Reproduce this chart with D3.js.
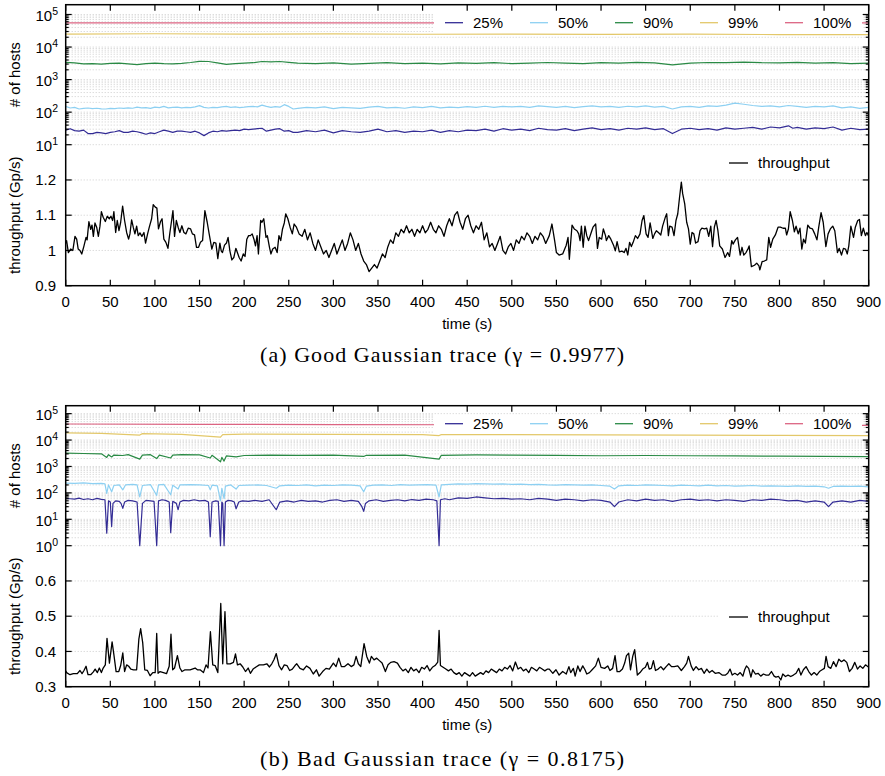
<!DOCTYPE html>
<html>
<head>
<meta charset="utf-8">
<script src="https://cdn.jsdelivr.net/npm/d3@7"></script>
<style>
body { margin: 0; background: #fff; }
svg { display: block; }
text { font-family: "Liberation Sans", Arial, sans-serif; }
</style>
</head>
<body>
<div id="chart"></div>
<script>
const W = 885, H = 776;

// ---- data ----
const hostLabels = ["25%", "50%", "90%", "99%", "100%"];
const hostColors = ["#332c95", "#8dd0f2", "#2a8a45", "#e3c86a", "#dc6482"];
const timeTicks = [0, 50, 100, 150, 200, 250, 300, 350, 400, 450, 500, 550, 600, 650, 700, 750, 800, 850, 900];
const goodTpTicks = [0.9, 1, 1.1, 1.2];
const badTpTicks = [0.3, 0.4, 0.5, 0.6];
const captions = ["(a) Good Gaussian trace (\u03b3 = 0.9977)", "(b) Bad Gaussian trace (\u03b3 = 0.8175)"];

// good trace: [time s, value]
const goodTp = [
  [0,1.02],[1,1.028],[3,0.994],[5.6,1.004],[8,1.0],[10.4,1.04],[12.3,1.032],[14,1.004],[16,1.0],[18,0.99],[20.5,1.013],
  [22.8,1.037],[24,1.03],[26,1.082],[28,1.06],[29.5,1.072],[31,1.04],[32.8,1.078],[34.7,1.066],[36.6,1.04],[38.4,1.069],
  [40,1.11],[42,1.094],[44.4,1.082],[46.6,1.097],[48.9,1.09],[50.7,1.097],[52.6,1.085],[54,1.11],[56,1.051],[57.8,1.085],
  [59.7,1.056],[61.6,1.08],[63.8,1.126],[66,1.085],[68.3,1.051],[70.5,1.032],[72,1.047],[73.9,1.087],[75.7,1.066],[77.6,1.047],
  [79.5,1.069],[81.3,1.042],[83.2,1.05],[85.4,1.04],[87.7,1.051],[89.5,1.021],[91.8,1.047],[93.7,1.066],[96.3,1.09],[98.1,1.13],
  [100.4,1.123],[102.2,1.12],[104,1.061],[106.3,1.082],[108,1.09],[110,1.032],[112.3,1.023],[114.6,1.006],[116.8,1.051],[118.7,1.085],
  [120.2,1.113],[122,1.04],[124,1.085],[126,1.066],[128,1.051],[130.2,1.07],[132.5,1.051],[134.7,1.047],[137.3,1.063],[140,1.061],
  [142,1.047],[144.4,1.044],[146.6,1.009],[148.9,1.009],[151,1.023],[153.4,1.028],[156,1.113],[158.6,1.08],[160.8,1.047],[163.8,1.004],
  [166,1.023],[168.3,1.021],[170.5,0.977],[172.8,1.021],[174.3,0.999],[175.7,0.994],[178,1.015],[180.2,1.021],[182,1.037],[184,0.999],
  [186.2,0.973],[188.4,0.98],[190.7,1.006],[193,0.99],[194.4,0.98],[196.6,0.97],[199,0.99],[201,0.983],[203,1.032],[205,1.042],
  [207,1.042],[209,1.047],[211,1.032],[212.7,1.013],[214.5,1.042],[216,0.99],[218.5,1.085],[220,1.08],[222,1.09],[224.5,1.037],
  [226,1.042],[228.4,1.009],[230,0.99],[232,1.004],[234.7,1.009],[237,0.994],[239,1.042],[241,1.028],[243,1.061],[245,1.078],
  [246.6,1.104],[249,1.09],[251.5,1.066],[254,1.047],[256,1.075],[258.6,1.066],[261.6,1.047],
  [265,1.04],[268,1.06],[271,1.03],[274,1.05],[277,1.02],[280,1.0],[283,1.03],[286,1.01],[289,0.99],[292,1.0],[295,0.98],
  [298,1.0],[301,1.02],[304,0.99],[307,1.01],[310,1.03],[313,1.0],[316,1.02],[319,1.05],[322,1.03],[325,1.0],[328,1.02],
  [331,0.99],[334,0.97],[337,0.96],[340,0.94],[343,0.95],[346,0.96],[349,0.95],[352,0.97],[355,0.99],[358,0.98],[361,1.01],
  [364,1.03],[367,1.02],[370,1.05],[373,1.04],[376,1.06],[379,1.05],[382,1.07],[385,1.05],[388,1.06],[391,1.04],[394,1.06],
  [397,1.05],[400,1.07],[403,1.05],[406,1.06],[409,1.08],[412,1.06],[415,1.05],[418,1.07],[421,1.06],[424,1.04],[427,1.07],
  [430,1.09],[433,1.07],[436,1.1],[439,1.11],[442,1.08],[445,1.06],[448,1.09],[451,1.1],[454,1.07],[457,1.05],[460,1.07],
  [463,1.06],[466,1.08],[469,1.03],[472,1.05],[475,1.01],[478,1.02],[481,1.0],[484,1.02],[487,1.04],[490,1.0],[493,0.99],
  [496,1.01],[499,1.02],[502,1.0],[505,1.03],[508,1.02],[511,1.04],[514,1.03],[517,1.05],[520,1.04],[523,1.02],[526,1.04],
  [529,1.03],[532,1.05],[535,1.04],[538,1.02],[542,1.042],
  [545,1.075],[548,1.028],[550,0.994],[553,0.987],[557,0.99],[561,1.015],[563,1.037],[564.5,0.975],[567.5,1.072],[570,1.061],
  [573,1.056],[575,1.047],[576.5,1.028],[578,1.069],[580,1.009],[582,1.069],[584,1.042],[586,1.028],[589,1.051],[591,1.066],
  [594,1.075],[596,1.006],[598,1.037],[600.7,1.032],[602.6,1.061],[605,1.042],[606,1.028],[608.6,1.042],[611,1.032],[614,1.015],
  [616,0.999],[618,1.025],[620.5,0.996],[623.5,0.998],[626,0.994],[628,1.006],[630,0.987],[632,1.023],[634,1.011],[636,1.023],
  [638.5,1.042],[641,1.034],[643.7,1.047],[646,1.085],[648,1.099],[650.5,1.047],[652.7,1.037],[655,1.078],[658,1.034],[660,1.047],
  [662,1.056],[664.6,1.05],[667,1.044],[669,1.069],[672,1.094],[673.6,1.104],[675.5,1.042],[677,1.069],[679.6,1.066],[681.8,1.042],
  [684,1.085],[686,1.104],[688,1.151],[690,1.194],[691.5,1.161],[693.8,1.132],[696,1.08],[698,1.061],[700,1.018],[702,1.051],
  [704,1.047],[706,1.021],[708.7,1.025],[711,1.056],[713,1.063],[716,1.061],[718.5,1.063],[720.7,1.04],[723,1.069],[725,1.011],
  [727,1.066],[729,1.085],[731,1.056],[733,1.013],[736,1.004],[739,0.98],[742,0.994],[744,0.983],[746.5,1.028],[748,1.018],
  [750.6,1.03],[753,1.037],[756,0.987],[758,1.009],[760,0.987],[762.5,0.994],[765,1.006],[766,1.013],[768.5,0.954],[772,0.958],
  [774.5,0.964],[777,0.956],[778,0.945],[780.5,0.968],[783,0.97],[785.7,0.973],[788,1.037],[790,1.009],[792.5,1.032],[795.4,1.044],
  [798.4,1.066],[801,1.066],[804,1.063],[806.6,1.063],[808,1.044],[810,1.061],[812,1.11],[814.5,1.085],[816.7,1.053],[818.6,1.069],
  [821,1.047],[823,1.063],[825,1.004],[827,1.032],[829,1.021],[831.7,1.072],[834.3,1.063],[837,1.061],[839.5,1.047],[842,1.03],
  [844,1.066],[846.6,1.107],[849,1.08],[852,1.011],[854.5,1.047],[857,1.061],[859.7,1.069],[862,1.056],[865,0.994],[867,1.006],
  [869.5,0.987],[871.7,1.006],[874,1.004],[876,0.99],[877.7,1.013],[880,1.069],[883,1.037],[885,1.066],[887.7,1.085],[889.6,1.088],
  [891.8,1.042],[894,1.063],[896.3,1.042],[898,1.051],[900,1.04]
];
const goodHosts25 = [
  [0,28],[5,31],[10,27],[15,26],[20,28],[25,22],[30,22],[35,24],[40,23],[45,22],[50,24],[55,25],[60,27],[65,24],[70,24],
  [75,26],[80,25],[85,23],[90,21],[95,23],[100,22],[105,25],[110,28],[115,26],[120,24],[125,26],[130,26],[135,25],[140,24],
  [145,26],[150,23],[155,19],[160,23],[165,26],[170,25],[175,27],[180,26],[185,27],[190,28],[195,27],[200,30],[205,29],[210,30],
  [215,31],[220,32],[225,26],[230,28],[235,30],[240,31],[245,26],[250,27],[255,24],[260,24],[270,27],[280,25],[290,28],[300,23],
  [310,27],[320,25],[330,24],[340,26],[350,30],[360,25],[370,27],[380,24],[390,26],[400,25],[410,28],[420,24],[430,27],[440,25],
  [450,28],[460,27],[470,30],[480,26],[490,31],[500,28],[510,30],[520,27],[530,32],[540,29],[550,28],[560,31],[570,27],[580,30],
  [590,33],[600,29],[610,31],[620,28],[630,32],[640,30],[650,33],[660,29],[670,31],[680,22],[690,30],[700,32],[710,29],[720,31],
  [730,28],[740,33],[750,30],[760,32],[770,34],[780,30],[790,35],[800,33],[810,38],[815,32],[820,34],[830,30],[840,33],[850,31],
  [860,35],[870,28],[880,32],[890,29],[900,30]
];
const goodHosts50 = [
  [0,150],[5,134],[10,140],[15,125],[20,130],[25,134],[30,128],[35,132],[40,126],[45,125],[50,130],[55,128],[60,134],[65,130],
  [70,136],[75,132],[80,142],[85,135],[90,138],[95,130],[100,142],[105,138],[110,150],[115,136],[120,140],[125,142],[130,135],
  [135,140],[140,138],[145,145],[150,158],[155,140],[160,134],[165,140],[170,138],[175,145],[180,150],[185,140],[190,145],
  [195,138],[200,142],[205,148],[210,150],[215,145],[220,165],[225,150],[230,140],[235,148],[240,142],[245,170],[250,150],
  [255,125],[260,130],[270,140],[280,135],[290,145],[300,128],[310,140],[320,135],[330,130],[340,142],[350,150],[360,135],
  [370,140],[380,132],[390,145],[400,138],[410,150],[420,135],[430,142],[440,138],[450,148],[460,140],[470,152],[480,140],
  [490,150],[500,145],[510,150],[520,140],[530,155],[540,148],[550,140],[560,150],[570,138],[580,148],[590,155],[600,145],
  [610,150],[620,140],[630,152],[640,145],[650,155],[660,142],[670,150],[680,125],[690,145],[700,150],[710,140],[720,155],
  [730,150],[740,165],[750,190],[760,175],[770,160],[780,150],[790,155],[800,145],[810,160],[820,150],[830,140],[840,150],
  [850,145],[860,155],[870,135],[880,145],[890,130],[900,140]
];
const goodHosts90 = [
  [0,3400],[10,3250],[20,3050],[30,3100],[40,2980],[50,3150],[60,3200],[70,3050],[80,2870],[90,3100],[100,3200],[110,3100],
  [120,3050],[130,3150],[140,3350],[150,3630],[160,3600],[170,3250],[180,2950],[190,3100],[200,3200],[210,3300],[220,3600],
  [230,3500],[240,3600],[250,3400],[260,3200],[280,3100],[300,3250],[320,3000],[340,3150],[360,3300],[380,3100],[400,3200],
  [420,3050],[440,3250],[460,3150],[480,3300],[500,3100],[520,3200],[540,3350],[560,3200],[580,3100],[600,3300],[620,3200],
  [640,3400],[660,3250],[680,2850],[700,3200],[720,3350],[740,3300],[760,3450],[780,3300],[800,3250],[820,3400],[840,3200],
  [860,3300],[880,3100],[900,3200]
];
const goodHosts99 = [[0,25000],[100,25600],[200,24800],[300,25300],[400,24700],[500,25100],[600,24600],[700,24900],[800,24200],[900,24000]];
const goodHosts100 = [[0,55000],[150,55500],[300,55000],[450,55300],[600,55000],[750,55200],[900,55000]];

// bad trace
const badTp = [
  [0,0.345],[1,0.34],[4.8,0.334],[8.6,0.337],[13,0.337],[16,0.346],[18.3,0.337],[20.5,0.346],[22.8,0.358],[25,0.334],[28,0.334],
  [31,0.342],[33,0.35],[35.5,0.34],[37.7,0.353],[40,0.34],[42,0.353],[44.4,0.362],[46.3,0.437],[49,0.367],[52,0.427],[54,0.391],
  [56.5,0.343],[59.5,0.343],[61.6,0.36],[64,0.396],[66,0.343],[68.3,0.362],[70.6,0.358],[73,0.35],[76,0.348],[79.5,0.348],
  [82,0.435],[84,0.465],[86.3,0.425],[88.6,0.348],[91.6,0.346],[94.6,0.331],[97.6,0.34],[100.3,0.34],[102,0.451],[103.5,0.338],
  [105.8,0.343],[109.5,0.34],[113,0.337],[116,0.358],[118,0.449],[119.9,0.348],[122,0.353],[125.2,0.388],[128,0.353],[130.4,0.343],
  [133.7,0.348],[139.4,0.348],[145,0.353],[147.6,0.348],[150.6,0.348],[154.4,0.34],[157.3,0.362],[159.5,0.353],[162.2,0.456],
  [164.8,0.362],[167.5,0.36],[170.5,0.34],[173.8,0.536],[176,0.365],[178.5,0.513],[180.7,0.365],[184.4,0.365],[188,0.369],
  [190.3,0.393],[192.5,0.362],[195.5,0.365],[198.5,0.356],[201.5,0.343],[204.5,0.353],[207,0.338],[210,0.35],[213.3,0.356],
  [217,0.362],[221.6,0.362],[225.4,0.365],[228.4,0.356],[231,0.365],[233.5,0.377],[236,0.394],[239,0.36],[242,0.348],[245,0.362],
  [248,0.36],[251,0.346],[254,0.35],[257,0.36],[259,0.365],[262.6,0.352],[266.4,0.348],[270,0.359],[273.8,0.352],[277.5,0.336],
  [281,0.348],[284,0.33],[288,0.343],[291.7,0.352],[295.5,0.35],[300,0.367],[303,0.357],[306,0.381],[309,0.357],[312.6,0.357],
  [316.4,0.365],[320,0.357],[323,0.362],[325.5,0.386],[328,0.365],[330.7,0.357],[334.4,0.422],[337.4,0.386],[340.4,0.367],
  [342.6,0.386],[345.6,0.376],[348.6,0.381],[351.6,0.374],[354.6,0.367],[358.3,0.343],[361.3,0.362],[364.3,0.369],[368,0.371],
  [371.8,0.367],[374.7,0.355],
  [378,0.345],[381,0.35],[384,0.34],[387,0.355],[390,0.345],[393,0.35],[396,0.34],[399,0.355],[402,0.35],[405,0.36],[408,0.345],
  [411,0.355],[414,0.36],[417,0.37],[418.5,0.46],[420,0.36],[423,0.355],[426,0.35],[429,0.345],[432,0.35],[435,0.34],[438,0.335],
  [441,0.34],[444,0.33],[447,0.34],[450,0.335],[453,0.33],[456,0.34],[459,0.33],[462,0.335],[465,0.34],[468,0.335],[471,0.345],
  [474,0.34],[477,0.35],[480,0.345],[483,0.34],[486,0.35],[489,0.345],[492,0.355],[495,0.35],[498,0.36],[501,0.345],[504,0.37],
  [507,0.35],[510,0.355],[513,0.345],[516,0.35],[519,0.34],[522,0.355],[525,0.35],[528,0.345],[531,0.355],[534,0.35],[537,0.345],
  [540,0.35],
  [542,0.35],[546,0.338],[549.5,0.348],[553,0.333],[557,0.343],[561,0.336],[564,0.357],[566,0.34],[569,0.352],[571,0.33],
  [574,0.359],[576.5,0.343],[579.5,0.359],[582,0.348],[584,0.336],[587,0.34],[590,0.348],[594,0.359],[597,0.381],[600,0.355],
  [604,0.352],[607.5,0.359],[610,0.346],[613,0.352],[615.7,0.388],[618,0.343],[621,0.343],[624,0.35],[626.5,0.367],[628.5,0.388],
  [631,0.395],[633,0.348],[635.5,0.386],[637.7,0.405],[640.7,0.333],[643.7,0.34],[646.7,0.35],[649.7,0.355],[652,0.369],[654,0.35],
  [656.4,0.352],[658.7,0.374],[661,0.346],[664,0.35],[667,0.357],[670,0.348],[673,0.357],[676,0.365],[679,0.357],[682,0.357],
  [686,0.359],[690,0.346],[693.5,0.357],[696,0.367],[698,0.386],[701,0.359],[703.5,0.346],[706.5,0.357],[709.5,0.348],[712.5,0.352],
  [715.5,0.338],[718.5,0.35],[721.5,0.34],[724.5,0.346],[728,0.338],[732,0.34],[735.7,0.333],[739.5,0.333],[742,0.338],[744.6,0.35],
  [747,0.333],[750,0.338],[753,0.333],[756,0.34],[759,0.33],[761,0.348],[763,0.359],[765.5,0.352],[768,0.327],[770,0.348],
  [773,0.336],[776,0.338],[779,0.33],[782,0.336],[785,0.333],[788,0.333],[791,0.343],[794,0.33],[796,0.327],[799,0.329],
  [801.5,0.319],[803.7,0.336],[806.7,0.329],[809.6,0.333],[812.6,0.329],[815.6,0.333],[818.6,0.338],[821.6,0.352],[824,0.333],
  [826.8,0.348],[829.8,0.357],[832.8,0.343],[835.8,0.333],[838.8,0.34],[841.8,0.333],[844.8,0.343],[847.8,0.348],[850.3,0.352],
  [852.2,0.386],[854.5,0.357],[857.5,0.352],[860.5,0.371],[863.5,0.357],[866.5,0.378],[869.5,0.371],[872.4,0.376],[875.4,0.369],
  [878.4,0.343],[881.4,0.352],[884.4,0.369],[887.4,0.35],[890.4,0.359],[893.4,0.352],[896.4,0.362],[900,0.355]
];
const badHosts25 = [
  [0,62],[5,60],[10,58],[15,63],[20,56],[25,60],[30,55],[35,62],[40,57],[44,55],[46,3],[48,50],[50,45],[51.5,5.3],[53,40],
  [56,50],[60,48],[62,40],[64,26],[66,45],[70,52],[75,50],[80,45],[83,1],[86,40],[90,52],[95,50],[99,48],[102,1],[104,50],
  [108,55],[112,52],[116,45],[117.7,3.1],[120,48],[124,40],[126,23],[128,45],[132,52],[138,50],[144,55],[150,50],[156,52],
  [160,45],[162,2.2],[164,45],[168,50],[171,48],[173.5,1],[175,45],[176,40],[177.5,1],[179,45],[182,52],[186,50],[189,45],
  [191,25],[194,45],[198,50],[205,48],[212,52],[220,48],[228,55],[236,23],[240,45],[248,50],[256,45],[264,52],[272,48],
  [280,50],[288,45],[296,52],[304,55],[312,48],[320,52],[328,48],[332,30],[334,20],[336,40],[340,50],[348,55],[356,48],
  [364,52],[372,55],[380,50],[388,56],[396,52],[404,58],[412,55],[416,50],[418.5,1],[420,55],[425,60],[430,55],[440,65],
  [450,62],[460,70],[470,65],[480,60],[490,62],[500,58],[510,60],[520,55],[530,62],[540,58],[550,52],[560,58],[570,55],
  [580,50],[590,55],[600,52],[610,45],[615,30],[620,45],[630,55],[640,50],[650,58],[660,52],[670,55],[680,48],[690,55],
  [700,58],[710,52],[720,55],[730,50],[740,55],[750,52],[760,48],[770,55],[780,52],[790,58],[800,55],[810,50],[820,52],
  [830,45],[840,50],[850,45],[855,30],[860,45],[870,50],[880,45],[890,52],[900,48]
];
const badHosts50 = [
  [0,235],[10,228],[20,240],[30,225],[40,230],[44,220],[46,95],[48,200],[51.5,110],[54,190],[60,200],[64,130],[67,200],
  [75,210],[80,200],[83,70],[86,190],[95,205],[102,80],[104,200],[110,210],[117.7,85],[120,195],[126,140],[128,200],[140,205],
  [150,200],[160,190],[162,130],[164,195],[170,185],[173.5,50],[175,150],[177.5,60],[179,180],[185,200],[191,140],[194,190],
  [205,195],[215,200],[225,190],[236,150],[240,185],[250,195],[260,190],[270,200],[280,185],[290,195],[300,190],[310,200],
  [320,195],[330,185],[334,110],[337,180],[345,195],[355,200],[365,190],[375,205],[385,195],[395,200],[405,205],[415,195],
  [418.5,70],[421,200],[430,210],[440,220],[450,215],[460,225],[470,220],[480,215],[490,220],[500,210],[510,215],[520,205],
  [530,210],[540,200],[550,195],[560,205],[570,200],[580,195],[590,200],[600,190],[610,180],[615,140],[620,185],[630,195],
  [640,190],[650,200],[660,195],[670,190],[680,185],[690,195],[700,190],[710,185],[720,195],[730,185],[740,190],[750,180],
  [760,185],[770,190],[780,180],[790,185],[800,180],[810,175],[820,185],[830,175],[840,180],[850,170],[855,150],[860,175],
  [870,180],[880,175],[890,180],[900,170]
];
const badHosts90 = [
  [0,3200],[20,3100],[40,3000],[46,2200],[48,2800],[51.5,2300],[54,2700],[64,2600],[70,2800],[83,1900],[86,2700],[95,2800],
  [102,2000],[105,2700],[117.7,2100],[120,2700],[130,2800],[150,2750],[162,2100],[164,2650],[173.5,1500],[175,2200],
  [177.5,1600],[180,2500],[191,2300],[200,2600],[230,2700],[260,2650],[300,2700],[334,2400],[337,2650],[380,2700],
  [418.5,1900],[421,2650],[460,2750],[500,2700],[550,2650],[600,2550],[650,2600],[700,2550],[750,2500],[800,2450],
  [850,2400],[900,2350]
];
const badHosts99 = [
  [0,18600],[40,18000],[83,15500],[86,17500],[130,16500],[173.5,13000],[176,16000],[200,16800],[300,16500],[400,16200],
  [418.5,14800],[421,16000],[500,16200],[600,15800],[700,15500],[800,15000],[900,14600]
];
const badHosts100 = [[0,40500],[150,39500],[300,38500],[450,38000],[600,37000],[750,36500],[900,36000]];

// ---- layout ----
const X0 = 65.7, X1 = 868.7;
const x = d3.scaleLinear().domain([0, 900]).range([X0, X1]);

const svg = d3.select("#chart").append("svg")
  .attr("width", W)
  .attr("height", H);

let clipId = 0;

function drawPanel(top, cfg) {
  const logBottom = top + 140, bottom = top + 281;
  const yLog = d3.scaleLog().domain([cfg.logMin, 2e5]).range([logBottom, top]);
  const yTp = d3.scaleLinear().domain(cfg.tpDomain).range([bottom, logBottom]);
  const g = svg.append("g");

  clipId++;
  g.append("clipPath").attr("id", "clip" + clipId)
    .append("rect").attr("x", X0).attr("y", top).attr("width", X1 - X0).attr("height", bottom - top);

  // log tick values (majors + minors)
  const e0 = Math.round(Math.log10(cfg.logMin));
  const majors = [], minors = [];
  for (let e = e0; e <= 5; e++) {
    majors.push(Math.pow(10, e));
    for (let m = 2; m <= 9; m++) {
      const v = m * Math.pow(10, e);
      if (v < 2e5) minors.push(v);
    }
  }

  // grid
  const grid = g.append("g").attr("stroke", "#cdcdcd").attr("stroke-width", 1).attr("stroke-dasharray", "1,2");
  majors.concat(minors).forEach(v => {
    grid.append("line").attr("x1", X0).attr("x2", X1).attr("y1", yLog(v)).attr("y2", yLog(v));
  });
  cfg.tpTicks.slice(1).forEach(v => {
    grid.append("line").attr("x1", X0).attr("x2", X1).attr("y1", yTp(v)).attr("y2", yTp(v));
  });

  // host lines
  const lineLog = d3.line().x(d => x(d[0])).y(d => yLog(d[1]));
  const plot = g.append("g").attr("clip-path", "url(#clip" + clipId + ")");
  cfg.hosts.forEach((s, i) => {
    plot.append("path").datum(s)
      .attr("d", lineLog)
      .attr("fill", "none")
      .attr("stroke", hostColors[i])
      .attr("stroke-width", 1.2)
      .attr("stroke-linejoin", "round");
  });

  // throughput
  const lineTp = d3.line().x(d => x(d[0])).y(d => yTp(d[1]));
  plot.append("path").datum(cfg.tp)
    .attr("d", lineTp)
    .attr("fill", "none")
    .attr("stroke", "#000")
    .attr("stroke-width", 1.3)
    .attr("stroke-linejoin", "round");

  // host legend (opaque box)
  const legY = top + 18;
  g.append("rect").attr("x", 434).attr("y", legY - 9.5).attr("width", 428).attr("height", 19).attr("fill", "#fff");
  hostLabels.forEach((lab, i) => {
    const lx = 445 + i * 85;
    g.append("line").attr("x1", lx).attr("x2", lx + 18).attr("y1", legY).attr("y2", legY)
      .attr("stroke", hostColors[i]).attr("stroke-width", 1.3);
    g.append("text").attr("x", lx + 28).attr("y", legY).attr("dy", "0.35em")
      .attr("font-size", 15).text(lab);
  });

  // throughput legend
  const tlY = cfg.tpLegendY;
  g.append("rect").attr("x", 718).attr("y", tlY - 10).attr("width", 144).attr("height", 20).attr("fill", "#fff");
  g.append("line").attr("x1", 729).attr("x2", 748).attr("y1", tlY).attr("y2", tlY)
    .attr("stroke", "#000").attr("stroke-width", 1.3);
  g.append("text").attr("x", 758).attr("y", tlY).attr("dy", "0.35em").attr("font-size", 15).text("throughput");

  // frame
  g.append("rect").attr("x", X0).attr("y", top).attr("width", X1 - X0).attr("height", bottom - top)
    .attr("fill", "none").attr("stroke", "#000").attr("stroke-width", 1.5);

  const ticks = g.append("g").attr("stroke", "#000").attr("stroke-width", 1.2);
  timeTicks.forEach(t => {
    ticks.append("line").attr("x1", x(t)).attr("x2", x(t)).attr("y1", bottom).attr("y2", bottom - 6);
    ticks.append("line").attr("x1", x(t)).attr("x2", x(t)).attr("y1", top).attr("y2", top + 6);
    g.append("text").attr("x", x(t)).attr("y", bottom + 16).attr("dy", "0.35em")
      .attr("text-anchor", "middle").attr("font-size", 15).text(t);
  });
  majors.forEach(v => {
    const yy = yLog(v);
    ticks.append("line").attr("x1", X0).attr("x2", X0 + 6).attr("y1", yy).attr("y2", yy);
    ticks.append("line").attr("x1", X1).attr("x2", X1 - 6).attr("y1", yy).attr("y2", yy);
    const t = g.append("text").attr("x", 58).attr("y", yy + 1).attr("dy", "0.35em")
      .attr("text-anchor", "end").attr("font-size", 15);
    t.append("tspan").text("10");
    t.append("tspan").attr("dy", -6).attr("font-size", 10.5).text(Math.round(Math.log10(v)));
  });
  minors.forEach(v => {
    const yy = yLog(v);
    ticks.append("line").attr("x1", X0).attr("x2", X0 + 3).attr("y1", yy).attr("y2", yy);
    ticks.append("line").attr("x1", X1).attr("x2", X1 - 3).attr("y1", yy).attr("y2", yy);
  });
  cfg.tpTicks.forEach(v => {
    const yy = yTp(v);
    ticks.append("line").attr("x1", X0).attr("x2", X0 + 6).attr("y1", yy).attr("y2", yy);
    ticks.append("line").attr("x1", X1).attr("x2", X1 - 6).attr("y1", yy).attr("y2", yy);
    g.append("text").attr("x", 56).attr("y", yy).attr("dy", "0.35em")
      .attr("text-anchor", "end").attr("font-size", 15).text(v);
  });

  // axis titles
  g.append("text").attr("transform", `translate(20,${(top + logBottom) / 2}) rotate(-90)`)
    .attr("text-anchor", "middle").attr("font-size", 15).text("# of hosts");
  g.append("text").attr("transform", `translate(20,${(logBottom + bottom) / 2}) rotate(-90)`)
    .attr("text-anchor", "middle").attr("font-size", 15).text("throughput (Gp/s)");
  g.append("text").attr("x", (X0 + X1) / 2).attr("y", bottom + 38).attr("dy", "0.35em")
    .attr("text-anchor", "middle").attr("font-size", 15).text("time (s)");

  // caption
  svg.append("text").attr("x", 442).attr("y", cfg.captionY)
    .attr("text-anchor", "middle")
    .style("font-family", "'Liberation Serif', 'DejaVu Serif', serif")
    .attr("font-size", 22)
    .attr("textLength", 364).attr("lengthAdjust", "spacing")
    .text(cfg.caption);
}

drawPanel(4.7, {
  logMin: 10, tpDomain: [0.9, 1.3], tpTicks: goodTpTicks,
  hosts: [goodHosts25, goodHosts50, goodHosts90, goodHosts99, goodHosts100],
  tp: goodTp, tpLegendY: 163, caption: captions[0], captionY: 362
});
drawPanel(405.7, {
  logMin: 1, tpDomain: [0.3, 0.7], tpTicks: badTpTicks,
  hosts: [badHosts25, badHosts50, badHosts90, badHosts99, badHosts100],
  tp: badTp, tpLegendY: 617, caption: captions[1], captionY: 766
});
</script>
</body>
</html>
